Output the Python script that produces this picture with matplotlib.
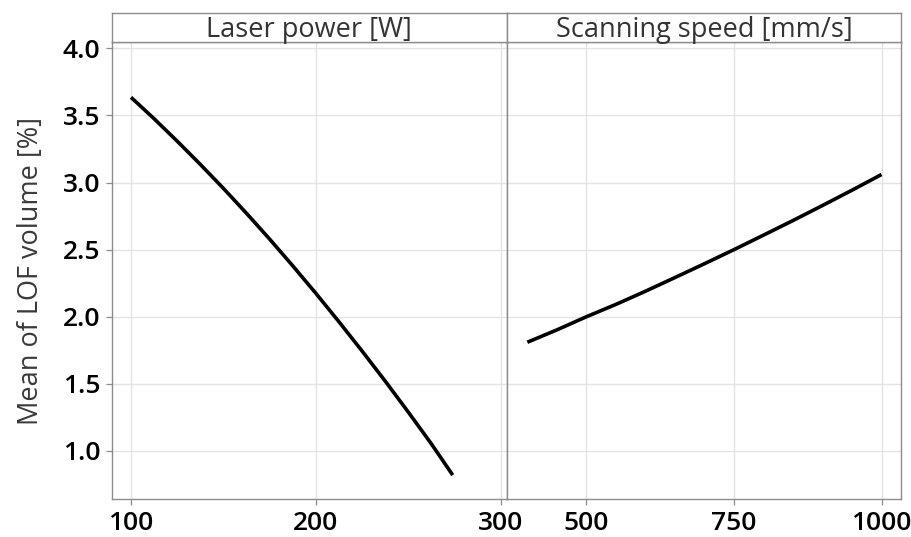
import matplotlib
matplotlib.use("Agg")
import matplotlib.pyplot as plt

# main effects
power = [100, 112.5, 125, 137.5, 150, 162.5, 175, 187.5, 200,
         212.5, 225, 237.5, 250, 262.5, 274]
power_lof = [3.635, 3.475, 3.308, 3.135, 2.956, 2.770, 2.578, 2.379, 2.174,
             1.962, 1.744, 1.520, 1.289, 1.052, 0.82]

speed = [400, 450, 500, 550, 600, 650, 700, 750, 800, 850, 900, 950, 1000]
speed_lof = [1.81, 1.902, 2.00, 2.092, 2.19, 2.292, 2.395, 2.50, 2.608,
             2.717, 2.829, 2.943, 3.06]

panel_titles = ["Laser power [W]", "Scanning speed [mm/s]"]
power_ticks = [100, 200, 300]
speed_ticks = [500, 750, 1000]
y_ticks = [1.0, 1.5, 2.0, 2.5, 3.0, 3.5, 4.0]

plt.rcParams["font.family"] = ["Open Sans", "DejaVu Sans"]

W, H = 912, 537
fig = plt.figure(figsize=(W / 100, H / 100), dpi=100)

x0, xm, x1 = 112, 506.7, 901
ytop, ybot, yhead = 42.3, 499, 12.7

def fx(px):
    return px / W

def fy(py):
    return 1 - py / H

ax1 = fig.add_axes([fx(x0), fy(ybot), fx(xm - x0), fy(ytop) - fy(ybot)])
ax2 = fig.add_axes([fx(xm), fy(ybot), fx(x1 - xm), fy(ytop) - fy(ybot)], sharey=ax1)

spine_c = "#8c8c8c"
grid_c = "#e3e3e3"

for ax, xs, ys, ticks, lim in [
    (ax1, power, power_lof, power_ticks, (89.7, 303.2)),
    (ax2, speed, speed_lof, speed_ticks, (365, 1033)),
]:
    ax.plot(xs, ys, color="black", lw=2.6, solid_capstyle="butt",
            solid_joinstyle="round")
    ax.set_xlim(*lim)
    ax.set_xticks(ticks)
    ax.set_yticks(y_ticks)
    ax.set_ylim(0.642, 4.045)
    ax.grid(True, color=grid_c, lw=1.0)
    ax.set_axisbelow(True)
    for s in ax.spines.values():
        s.set_color(spine_c)
        s.set_linewidth(1.0)
    ax.tick_params(colors=spine_c, length=4.5, width=0.9, labelsize=19,
                   labelcolor="black", pad=4)
    for lab in ax.get_xticklabels() + ax.get_yticklabels():
        lab.set_fontweight("semibold")

ax1.set_yticklabels([f"{v:.1f}" for v in y_ticks])
ax2.tick_params(axis="y", left=False, labelleft=False)
ax1.set_ylabel("Mean of LOF volume [%]", fontsize=19.5, color="#3a3a3a", labelpad=13)

# header strips
for left, right, title in [(x0, xm, panel_titles[0]), (xm, x1, panel_titles[1])]:
    hax = fig.add_axes([fx(left), fy(ytop), fx(right - left), fy(yhead) - fy(ytop)])
    hax.set_xticks([])
    hax.set_yticks([])
    for s in hax.spines.values():
        s.set_color(spine_c)
        s.set_linewidth(1.0)
    hax.text(0.5, 0.42, title, ha="center", va="center", fontsize=19.5,
             color="#333333", transform=hax.transAxes)

fig.savefig("out.png", dpi=100)
